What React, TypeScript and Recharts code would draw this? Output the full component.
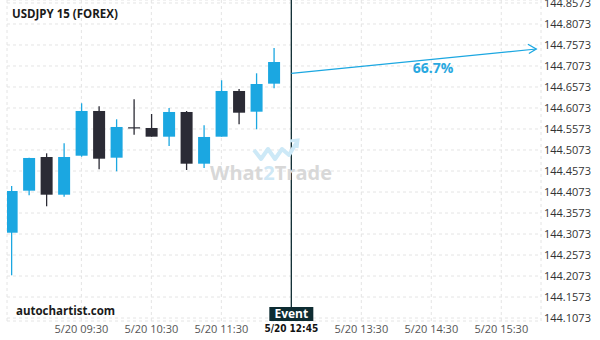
import React from 'react'
import {
    ComposedChart,
    Bar,
    Line,
    XAxis,
    YAxis,
    CartesianGrid,
    ReferenceLine,
    ReferenceDot
} from 'recharts'

// 15 minute candles, slot 0 = first visible candle
const candleSlots = [0, 1, 2, 3, 4, 5, 6, 7, 8, 9, 10, 11, 12, 13, 14, 15]
const opens = [144.3104, 144.4104, 144.4906, 144.4009, 144.4937, 144.6002, 144.4890, 144.5614, 144.5597, 144.5390, 144.5978, 144.4747, 144.5390, 144.6478, 144.5985, 144.6652]
const closes = [144.4097, 144.4883, 144.4009, 144.4906, 144.6002, 144.4866, 144.5621, 144.5613, 144.5390, 144.5978, 144.4747, 144.5383, 144.6478, 144.5961, 144.6644, 144.7168]
const highs = [144.4216, 144.4890, 144.4994, 144.5233, 144.6185, 144.6113, 144.5804, 144.6280, 144.5930, 144.6073, 144.6002, 144.5661, 144.6733, 144.6525, 144.6899, 144.7502]
const lows = [144.2090, 144.3994, 144.3733, 144.3961, 144.4913, 144.4613, 144.4566, 144.5437, 144.5390, 144.5168, 144.4597, 144.4644, 144.5390, 144.5685, 144.5566, 144.6542]

// forecast arrow
const forecastSlots = [16, 30]
const forecastValues = [144.6899, 144.7478]
const forecastLabel = '66.7%'
const forecastLabelSlot = 24.1
const forecastLabelValue = 144.7033

const eventSlot = 16
const eventLabel = 'Event'

const xTickSlots = [4, 8, 12, 16, 20, 24, 28]
const xTickLabels = ['5/20 09:30', '5/20 10:30', '5/20 11:30', '5/20 12:45', '5/20 13:30', '5/20 14:30', '5/20 15:30']
const yTicks = [144.1073, 144.1573, 144.2073, 144.2573, 144.3073, 144.3573, 144.4073, 144.4573, 144.5073, 144.5573, 144.6073, 144.6573, 144.7073, 144.7573, 144.8073, 144.8573]

const BLUE = '#1ba7e1'
const DARK = '#2b2b35'
const FONT = "'Open Sans', 'Noto Sans', sans-serif"

const data: any[] = [
    ...candleSlots.map((slot, i) => ({
        slot,
        range: [lows[i], highs[i]],
        open: opens[i],
        close: closes[i],
        high: highs[i],
        low: lows[i]
    })),
    ...forecastSlots.map((slot, i) => ({ slot, forecast: forecastValues[i] }))
]

const Candle = (props: any) => {
    const { x, y, width, height, payload } = props
    if (!payload || payload.open == null) return null
    const { open, close, high, low } = payload
    const color = close >= open ? BLUE : DARK
    const span = high - low || 1
    const top = y + ((high - Math.max(open, close)) / span) * height
    const bottom = y + ((high - Math.min(open, close)) / span) * height
    const cx = x + width / 2
    const bodyH = Math.max(1.2, bottom - top)
    return (
        <g>
            <line x1={cx} x2={cx} y1={y} y2={y + height} stroke={color} strokeWidth={1.3} />
            <rect x={x} y={top} width={width} height={bodyH} fill={color} />
        </g>
    )
}

const XTick = (props: any) => {
    const { x, y, payload, index } = props
    const label = xTickLabels[xTickSlots.indexOf(payload.value)] ?? ''
    const isEvent = payload.value === eventSlot
    return (
        <text
            key={index}
            x={x}
            y={y}
            dy="0.71em"
            textAnchor="middle"
            fontFamily={isEvent ? "'DejaVu Sans Condensed', 'Liberation Sans Narrow', sans-serif" : FONT}
            fontSize={isEvent ? 10 : 11}
            fontWeight={isEvent ? 700 : 400}
            fill={isEvent ? '#111' : '#555'}
        >
            {label}
        </text>
    )
}

const ArrowHead = (props: any) => {
    const { cx, cy, index, value } = props
    if (value == null || index !== data.length - 1) return <g key={index} />
    return (
        <path
            key={index}
            d={`M${cx - 8.4},${cy - 4.7} L${cx},${cy} L${cx - 7.4},${cy + 4.5}`}
            fill="none"
            stroke={BLUE}
            strokeWidth={1.3}
        />
    )
}

const EventTag = (props: any) => {
    const { viewBox } = props
    const cx = viewBox.x
    const bottom = viewBox.y + viewBox.height
    return (
        <g>
            <rect x={cx - 22} y={bottom - 14} width={44} height={14} fill="#0e2c32" />
            <text x={cx} y={bottom - 3} textAnchor="middle" fontFamily={FONT} fontWeight={700} fontSize={12} fill="#fff">
                {eventLabel}
            </text>
        </g>
    )
}

export default function App() {
    return (
        <div style={{ position: 'absolute', left: 0, top: 0, width: 600, height: 340, background: '#fff', fontFamily: FONT }}>
            <ComposedChart width={600} height={340} data={data} margin={{ top: 0, right: 0, bottom: 0, left: 7 }}>
                <CartesianGrid strokeDasharray="3 3" stroke="#e4e4e4" />
                <XAxis
                    dataKey="slot"
                    type="number"
                    domain={[-0.25, 30.27]}
                    ticks={xTickSlots}
                    allowDataOverflow
                    height={19}
                    tickLine={false}
                    axisLine={false}
                    tickSize={0}
                    tickMargin={4}
                    tick={<XTick />}
                    interval={0}
                />
                <YAxis
                    orientation="right"
                    type="number"
                    domain={[144.1002, 144.8644]}
                    ticks={yTicks}
                    allowDataOverflow
                    width={59}
                    tickLine={false}
                    axisLine={false}
                    tickSize={0}
                    tickMargin={3}
                    interval={0}
                    tick={{ fill: '#333', fontSize: 11, fontFamily: FONT }}
                    tickFormatter={(v: number) => v.toFixed(4)}
                />
                <Bar dataKey="range" barSize={12} shape={<Candle />} isAnimationActive={false} />
                <ReferenceLine x={eventSlot} stroke="#0e2c32" strokeWidth={1.3} label={<EventTag />} />
                <Line
                    dataKey="forecast"
                    stroke={BLUE}
                    strokeWidth={1.2}
                    connectNulls
                    dot={<ArrowHead />}
                    activeDot={false}
                    isAnimationActive={false}
                />
                <ReferenceDot
                    x={forecastLabelSlot}
                    y={forecastLabelValue}
                    r={0}
                    stroke="none"
                    label={{ value: forecastLabel, fill: '#29a8e0', fontSize: 14, fontWeight: 700, fontFamily: FONT }}
                />
            </ComposedChart>

            <div style={{ position: 'absolute', left: 12, top: 6, fontSize: 11.5, fontWeight: 700, color: '#1a1a1a' }}>
                USDJPY 15 (FOREX)
            </div>
            <div style={{ position: 'absolute', left: 16, top: 303, fontSize: 11.5, fontWeight: 700, color: '#1a1a1a' }}>
                autochartist.com
            </div>
            <svg style={{ position: 'absolute', left: 0, top: 0, pointerEvents: 'none' }} width={600} height={340}>
                <polyline
                    points="254,150 261,159 268,149 275,159 282,149 289,155 297,142"
                    fill="none"
                    stroke="#cde9f7"
                    strokeWidth={4}
                    strokeLinejoin="round"
                />
                <path d="M290,141 L298,140 L297,148" fill="none" stroke="#cde9f7" strokeWidth={3} />
                <text x={271} y={180} textAnchor="middle" fontFamily={FONT} fontWeight={700} fontSize={20} fill="#d8d8d8">
                    What<tspan fill="#cfe8f6">2</tspan>Trade
                </text>
            </svg>
        </div>
    )
}
